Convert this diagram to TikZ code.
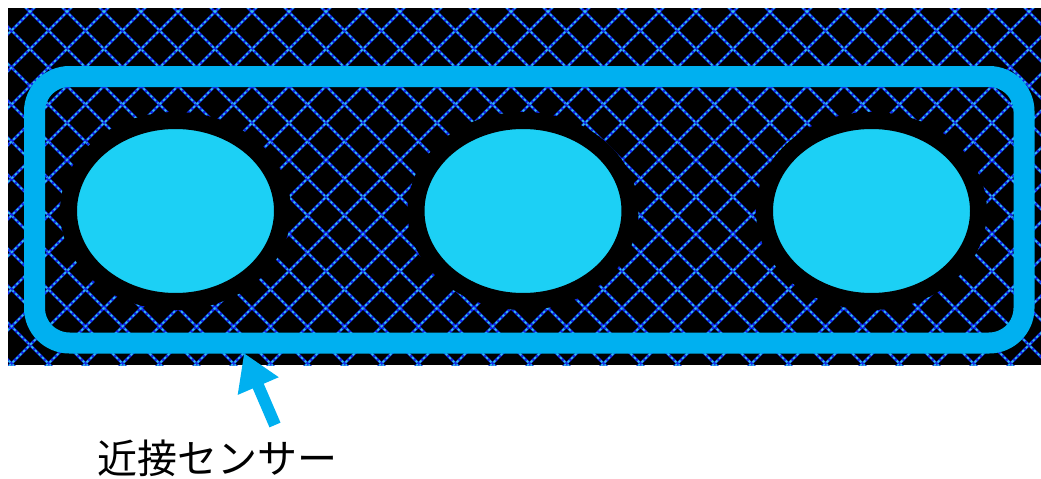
\documentclass[tikz,border=0pt]{standalone}
\usepackage{fontspec}
\newfontfamily\jpfont{Noto Sans CJK JP}
\usetikzlibrary{arrows.meta, shapes.geometric, positioning}
\definecolor{FrameBlue}{RGB}{0,176,240}
\definecolor{PadCyan}{RGB}{28,208,245}
\definecolor{MeshBlue}{RGB}{15,40,235}
\definecolor{MeshCyan}{RGB}{50,195,230}

\begin{document}
\begin{tikzpicture}[
    x=1pt, y=-1pt,
    board/.style={fill=black},
    mesh/.style={MeshBlue, line width=2.8pt},
    meshdot/.style={MeshCyan, line width=1.6pt, dash pattern=on 2.5pt off 2.5pt},
    pad/.style={
        ellipse, inner sep=0pt, minimum width=214pt, minimum height=181pt,
        fill=PadCyan, draw=black, line width=17pt
    },
    frame/.style={
        rectangle, rounded corners=35pt, inner sep=0pt,
        minimum width=989.5pt, minimum height=266.5pt,
        draw=FrameBlue, line width=21pt
    },
    caption/.style={font=\jpfont\fontsize{40}{40}\selectfont, text=black,
                    inner sep=0pt},
    pointer/.style={-{Triangle[length=36pt, width=42pt]}, FrameBlue,
                    line width=12pt}
]
\useasboundingbox (0,0) rectangle (1041,479);

% ===================================================================
% BOARD WITH MESH
% ===================================================================
\fill[board] (8,8) rectangle (1041,365);
\begin{scope}
    \clip (8,8) rectangle (1041,365);
    \foreach \c in {-407,-370,...,1400} {
        \draw[mesh] (\c+18,0) -- (\c+18+400,400);
        \draw[mesh] (\c+42,0) -- (\c+42-400,400);
        \draw[meshdot] (\c+18,0) -- (\c+18+400,400);
        \draw[meshdot] (\c+42,0) -- (\c+42-400,400);
    }
\end{scope}

% ===================================================================
% SENSOR PADS AND FRAME
% ===================================================================
\foreach \i/\x in {1/175.5, 2/523, 3/871.5} {
    \node[pad] (pad\i) at (\x,211) {};
}

\node[frame] (frame) at (529.25,209.75) {};

% ===================================================================
% LABEL
% ===================================================================
\node[caption] (label) at (217,458) {近接センサー};
\coordinate (tail) at (275,425);
\coordinate (tip) at (244,353);
\draw[pointer] (tail) -- (tip);

\end{tikzpicture}
\end{document}
